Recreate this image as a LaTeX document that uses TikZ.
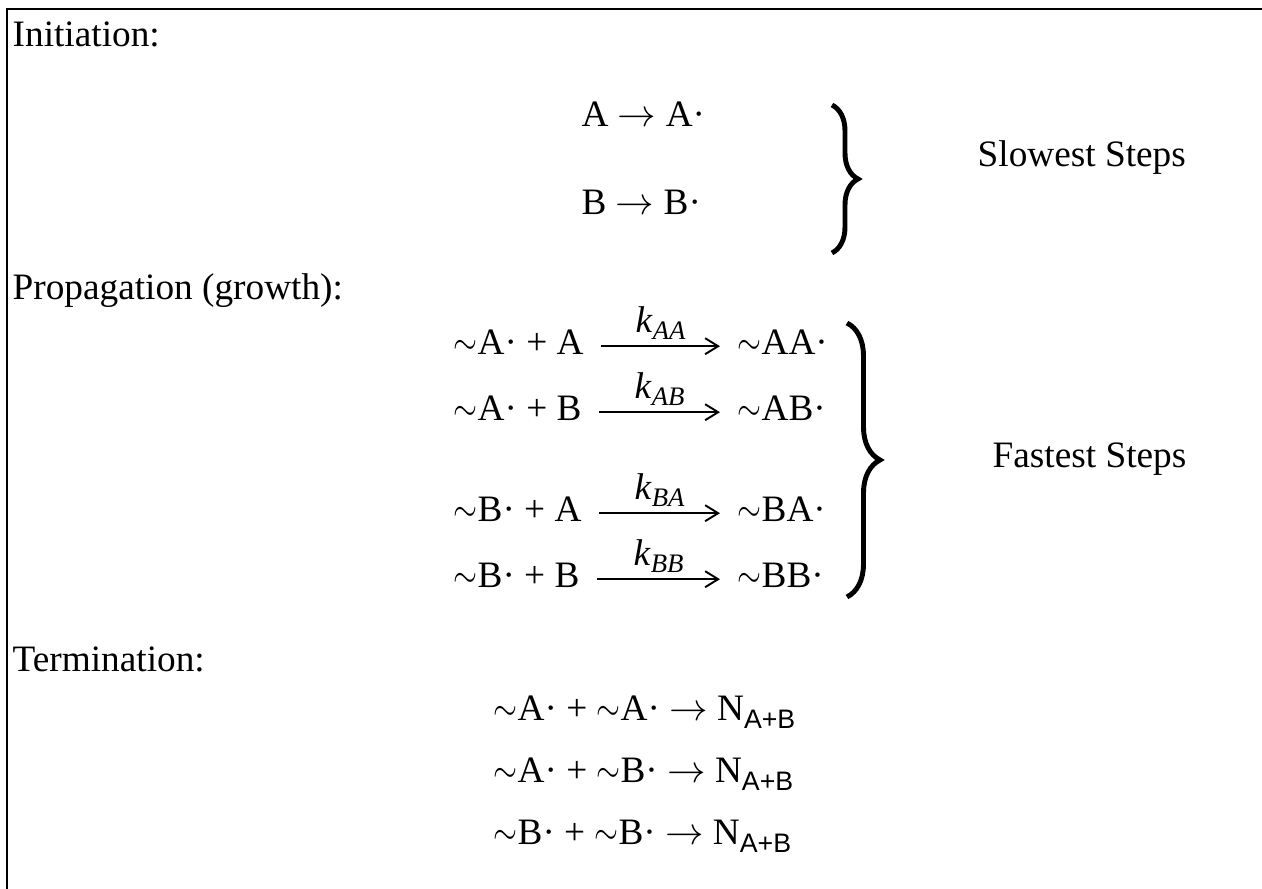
\documentclass[tikz,border=0pt]{standalone}
\usepackage{graphicx}
\usepackage{fontspec}
\setmainfont{Liberation Serif}
\newfontfamily\subsans{Liberation Sans}
\usepackage{tikz}
\usetikzlibrary{
	arrows.meta,
	decorations.pathreplacing
}

\newcommand{\tl}{\scalebox{0.8}[1]{$\sim$}}
\newcommand{\kk}[1]{\textit{k}\raisebox{-0.45ex}{\fontsize{7.6}{8}\selectfont\textit{#1}}}
\newcommand{\nab}{N\raisebox{-0.45ex}{\fontsize{7.6}{8}\selectfont\subsans A+B}}

\begin{document}
\begin{tikzpicture}[x=0.01cm, y=-0.01cm, font=\fontsize{10.6}{12}\selectfont,
		txt/.style={inner sep=0pt, anchor=base west},
		eq/.style={inner sep=0pt, anchor=base west, text height=0.5em, text depth=0pt},
		rxn/.style={-{Straight Barb[length=1.3mm,width=1.6mm]}, line width=0.55pt,
			shorten <=0.17cm, shorten >=0.17cm},
		brc/.style={decorate, decoration={brace, amplitude=#1}, line width=1.4pt}]
		\useasboundingbox (0,0) rectangle (1262,889);
		\draw[line width=0.6pt] (7,889) -- (7,9) -- (1262,9);
		
		% 各阶段标题
		\node[txt] (ini)  at (12,47)  {Initiation:};
		\node[txt] (prop) at (12,300) {Propagation (growth):};
		\node[txt] (term) at (12,672) {Termination:};
		
		% 引发：最慢步骤
		\node[txt] (ia) at (581,127) {A $\rightarrow$ A·};
		\node[txt] (ib) at (581,215) {B $\rightarrow$ B·};
		\draw[brc=0.26cm] (832,105) -- (832,253);
		\node[txt] (slow) at (977,167) {Slowest Steps};
		
		% 链增长：最快步骤
		\node[eq] (pl1) at (453,355) {\tl A· + A};
		\node[eq] (pr1) at (737,355) {\tl AA·};
		\draw[rxn] (pl1) -- node[above=1.5pt, inner sep=0pt] (kaa) {\kk{AA}} (pr1);
		\node[eq] (pl2) at (453,421) {\tl A· + B};
		\node[eq] (pr2) at (737,421) {\tl AB·};
		\draw[rxn] (pl2) -- node[above=1.5pt, inner sep=0pt] (kab) {\kk{AB}} (pr2);
		\node[eq] (pl3) at (453,522) {\tl B· + A};
		\node[eq] (pr3) at (737,522) {\tl BA·};
		\draw[rxn] (pl3) -- node[above=1.5pt, inner sep=0pt] (kba) {\kk{BA}} (pr3);
		\node[eq] (pl4) at (453,588) {\tl B· + B};
		\node[eq] (pr4) at (737,588) {\tl BB·};
		\draw[rxn] (pl4) -- node[above=1.5pt, inner sep=0pt] (kbb) {\kk{BB}} (pr4);
		\draw[brc=0.33cm] (847,323) -- (847,597);
		\node[txt] (fast) at (992,468) {Fastest Steps};
		
		% 终止
		\node[txt] (t1) at (493,721) {\tl A· + \tl A· $\rightarrow$ \nab};
		\node[txt] (t2) at (493,783) {\tl A· + \tl B· $\rightarrow$ \nab};
		\node[txt] (t3) at (493,845) {\tl B· + \tl B· $\rightarrow$ \nab};
	\end{tikzpicture}
\end{document}
